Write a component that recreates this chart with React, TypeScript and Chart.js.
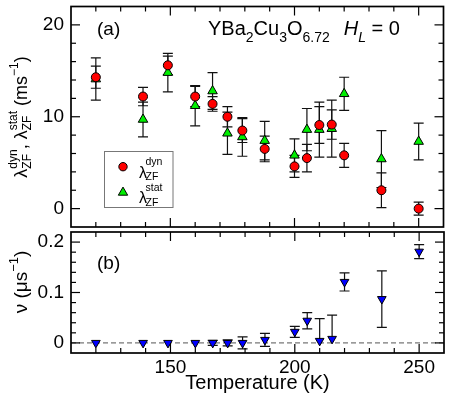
import React, { useEffect, useRef } from "react";
import { Chart, registerables } from "chart.js";

Chart.register(...registerables);

const FONT = '"Liberation Sans", Arial, Helvetica, sans-serif';

// ---- data ----
const temperatures = [120, 139, 149, 160, 167, 173, 179, 188, 200, 205, 210, 215, 220, 235, 250];
const lambdaDyn = [14.3, 12.2, 15.6, 12.2, 11.4, 10.0, 8.5, 6.5, 4.6, 5.5, 9.1, 9.15, 5.8, 2.0, 0.0];
const lambdaDynErr = [1.2, 1.0, 1.0, 1.1, 0.8, 1.1, 1.3, 1.4, 1.2, 1.5, 2.0, 1.6, 1.3, 1.9, 0.7];
const lambdaStat = [14.1, 9.7, 14.8, 11.2, 12.8, 8.2, 7.8, 7.4, 5.8, 8.6, 8.6, 8.7, 12.5, 5.4, 7.3];
const lambdaStatErr = [2.3, 1.9, 2.1, 2.2, 2.0, 2.3, 2.1, 2.1, 1.8, 2.3, 3.0, 3.1, 1.8, 3.1, 2.0];
const nu = [0, 0, 0, 0, 0, 0, 0, 0.006, 0.022, 0.044, 0.004, 0.008, 0.121, 0.087, 0.181];
const nuErrLow = [0, 0, 0, 0, 0.005, 0.006, 0.012, 0.013, 0.011, 0.016, 0, 0, 0.018, 0.056, 0.014];
const nuErrHigh = [0, 0, 0, 0, 0.005, 0.006, 0.012, 0.013, 0.011, 0.016, 0.044, 0.047, 0.018, 0.056, 0.014];

const xMin = 110;
const xMax = 260;
const xMajorTicks = [150, 200, 250];
const xTickLabels = ["150", "200", "250"];
const xMinorStep = 10;

const topYMin = -2;
const topYMax = 22;
const topYTicks = [0, 10, 20];
const topYTickLabels = ["0", "10", "20"];
const topYMinorStep = 2;

const bottomYMin = -0.02;
const bottomYMax = 0.22;
const bottomYTicks = [0, 0.1, 0.2];
const bottomYTickLabels = ["0", "0.1", "0.2"];
const bottomYMinorStep = 0.02;

// ---- rich text helpers ----
type Piece = {
  text?: string;
  size: number;
  dy?: number;
  italic?: boolean;
  sup?: string;
  sub?: string;
  supDy?: number;
  subDy?: number;
  gap?: number;
};

const fontOf = (size: number, italic?: boolean) => `${italic ? "italic " : ""}${size}px ${FONT}`;

function pieceWidth(ctx: CanvasRenderingContext2D, p: Piece) {
  ctx.font = fontOf(p.size, p.italic);
  if (p.sup !== undefined || p.sub !== undefined) {
    return Math.max(p.sup ? ctx.measureText(p.sup).width : 0, p.sub ? ctx.measureText(p.sub).width : 0);
  }
  return ctx.measureText(p.text || "").width;
}

function drawRich(ctx: CanvasRenderingContext2D, pieces: Piece[], x: number, y: number, align: "left" | "center") {
  const widths = pieces.map((p) => pieceWidth(ctx, p) + (p.gap || 0));
  const total = widths.reduce((a, b) => a + b, 0);
  let cx = align === "center" ? x - total / 2 : x;
  ctx.textAlign = "left";
  ctx.textBaseline = "alphabetic";
  pieces.forEach((p, i) => {
    ctx.font = fontOf(p.size, p.italic);
    if (p.sup !== undefined || p.sub !== undefined) {
      if (p.sup) ctx.fillText(p.sup, cx, y + (p.supDy ?? -8));
      if (p.sub) ctx.fillText(p.sub, cx, y + (p.subDy ?? 5));
    } else {
      ctx.fillText(p.text || "", cx, y + (p.dy || 0));
    }
    cx += widths[i];
  });
}

// ---- plugins ----
function minorValues(min: number, max: number, step: number, majors: number[]) {
  const out: number[] = [];
  const k0 = Math.ceil(min / step - 1e-9);
  const k1 = Math.floor(max / step + 1e-9);
  for (let k = k0; k <= k1; k++) {
    const v = k * step;
    if (Math.abs(v - min) < step * 0.01 || Math.abs(v - max) < step * 0.01) continue;
    if (majors.some((m) => Math.abs(m - v) < step * 0.01)) continue;
    out.push(v);
  }
  return out;
}

function framePlugin(yMajors: number[], yMinorStep: number) {
  return {
    id: "frameTicks",
    afterDraw(chart: any) {
      const { ctx, chartArea: a, scales } = chart;
      const xs = scales.x;
      const ys = scales.y;
      ctx.save();
      ctx.strokeStyle = "#000";
      ctx.lineWidth = 1.2;
      const seg = (x1: number, y1: number, x2: number, y2: number) => {
        ctx.beginPath();
        ctx.moveTo(x1, y1);
        ctx.lineTo(x2, y2);
        ctx.stroke();
      };
      const xt = (v: number, len: number) => {
        const p = xs.getPixelForValue(v);
        seg(p, a.bottom, p, a.bottom - len);
        seg(p, a.top, p, a.top + len);
      };
      const yt = (v: number, len: number) => {
        const p = ys.getPixelForValue(v);
        seg(a.left, p, a.left + len, p);
        seg(a.right, p, a.right - len, p);
      };
      xMajorTicks.forEach((v) => xt(v, 9));
      minorValues(xs.min, xs.max, xMinorStep, xMajorTicks).forEach((v) => xt(v, 5));
      yMajors.forEach((v) => yt(v, 9));
      minorValues(ys.min, ys.max, yMinorStep, yMajors).forEach((v) => yt(v, 5));
      ctx.lineWidth = 1.7;
      ctx.strokeRect(a.left, a.top, a.right - a.left, a.bottom - a.top);
      ctx.restore();
    },
  };
}

type ErrSet = { x: number[]; y: number[]; lo: number[]; hi: number[] };

function errorBarPlugin(sets: ErrSet[], zeroLine: boolean) {
  return {
    id: "errorBars",
    beforeDatasetsDraw(chart: any) {
      const { ctx, chartArea: a, scales } = chart;
      const xs = scales.x;
      const ys = scales.y;
      ctx.save();
      ctx.beginPath();
      ctx.rect(a.left, a.top, a.right - a.left, a.bottom - a.top);
      ctx.clip();
      if (zeroLine) {
        const py = ys.getPixelForValue(0);
        ctx.strokeStyle = "#555";
        ctx.lineWidth = 1;
        ctx.setLineDash([5, 3]);
        ctx.beginPath();
        ctx.moveTo(a.left, py);
        ctx.lineTo(a.right, py);
        ctx.stroke();
        ctx.setLineDash([]);
      }
      ctx.strokeStyle = "#111";
      ctx.lineWidth = 1.2;
      const cap = 5;
      sets.forEach((s) => {
        s.x.forEach((xv, i) => {
          const lo = s.lo[i];
          const hi = s.hi[i];
          if (!lo && !hi) return;
          const px = xs.getPixelForValue(xv);
          const pt = ys.getPixelForValue(s.y[i] + hi);
          const pb = ys.getPixelForValue(s.y[i] - lo);
          ctx.beginPath();
          ctx.moveTo(px, pt);
          ctx.lineTo(px, pb);
          if (hi > 0) {
            ctx.moveTo(px - cap, pt);
            ctx.lineTo(px + cap, pt);
          }
          if (lo > 0) {
            ctx.moveTo(px - cap, pb);
            ctx.lineTo(px + cap, pb);
          }
          ctx.stroke();
        });
      });
      ctx.restore();
    },
  };
}

const topTextPlugin = {
  id: "topText",
  afterDraw(chart: any) {
    const ctx: CanvasRenderingContext2D = chart.ctx;
    ctx.save();
    ctx.fillStyle = "#000";
    // panel label
    drawRich(ctx, [{ text: "(a)", size: 19 }], 97, 35, "left");
    // compound label
    drawRich(
      ctx,
      [
        { text: "YBa", size: 20 },
        { text: "2", size: 14, dy: 7 },
        { text: "Cu", size: 20 },
        { text: "3", size: 14, dy: 7 },
        { text: "O", size: 20 },
        { text: "6.72", size: 14, dy: 7, gap: 14 },
        { text: "H", size: 20, italic: true },
        { text: "L", size: 14, dy: 7, italic: true },
        { text: " = 0", size: 20 },
      ],
      208,
      35,
      "left"
    );
    // legend box
    ctx.strokeStyle = "#777";
    ctx.lineWidth = 1;
    ctx.strokeRect(104.5, 151.5, 68.5, 56);
    // legend symbols
    ctx.lineWidth = 1;
    ctx.strokeStyle = "#000";
    ctx.fillStyle = "#ff0000";
    ctx.beginPath();
    ctx.arc(123, 166.7, 4.2, 0, Math.PI * 2);
    ctx.fill();
    ctx.stroke();
    ctx.fillStyle = "#00ee00";
    const r = 5.4;
    const cx = 123;
    const cy = 192.5;
    ctx.beginPath();
    ctx.moveTo(cx, cy - r);
    ctx.lineTo(cx + r * Math.sin((2 * Math.PI) / 3), cy - r * Math.cos((2 * Math.PI) / 3));
    ctx.lineTo(cx + r * Math.sin((4 * Math.PI) / 3), cy - r * Math.cos((4 * Math.PI) / 3));
    ctx.closePath();
    ctx.fill();
    ctx.stroke();
    ctx.fillStyle = "#000";
    drawRich(
      ctx,
      [{ text: "λ", size: 16, gap: -1.5 }, { size: 10.5, sup: "dyn", sub: "ZF", supDy: -13, subDy: 2 }],
      139,
      178,
      "left"
    );
    drawRich(
      ctx,
      [{ text: "λ", size: 16, gap: -1.5 }, { size: 10.5, sup: "stat", sub: "ZF", supDy: -12, subDy: 3 }],
      139,
      203,
      "left"
    );
    // y title
    ctx.save();
    ctx.translate(27, 117);
    ctx.rotate(-Math.PI / 2);
    drawRich(
      ctx,
      [
        { text: "λ", size: 18 },
        { size: 12, sup: "dyn", sub: "ZF", supDy: -10, subDy: 4 },
        { text: ", ", size: 18 },
        { text: "λ", size: 18 },
        { size: 12, sup: "stat", sub: "ZF", supDy: -10, subDy: 4 },
        { text: " (ms", size: 18 },
        { text: "−1", size: 12, dy: -9 },
        { text: ")", size: 18 },
      ],
      0,
      0,
      "center"
    );
    ctx.restore();
    ctx.restore();
  },
};

const bottomTextPlugin = {
  id: "bottomText",
  afterDraw(chart: any) {
    const ctx: CanvasRenderingContext2D = chart.ctx;
    ctx.save();
    ctx.fillStyle = "#000";
    drawRich(ctx, [{ text: "(b)", size: 19 }], 97, 269, "left");
    ctx.save();
    ctx.translate(27, 282);
    ctx.rotate(-Math.PI / 2);
    drawRich(
      ctx,
      [
        { text: "ν (μs", size: 19 },
        { text: "−1", size: 13, dy: -9 },
        { text: ")", size: 19 },
      ],
      0,
      0,
      "center"
    );
    ctx.restore();
    ctx.restore();
  },
};

const tickFont = { family: FONT, size: 19 };

export default function App() {
  const topRef = useRef<HTMLCanvasElement>(null);
  const botRef = useRef<HTMLCanvasElement>(null);

  useEffect(() => {
    const topChart = new Chart(topRef.current!, {
      type: "scatter",
      data: {
        datasets: [
          {
            label: "λdyn",
            data: temperatures.map((t, i) => ({ x: t, y: lambdaDyn[i] })),
            pointStyle: "circle",
            pointRadius: 4.5,
            backgroundColor: "#ff0000",
            borderColor: "#000",
            borderWidth: 1,
          },
          {
            label: "λstat",
            data: temperatures.map((t, i) => ({ x: t, y: lambdaStat[i] })),
            pointStyle: "triangle",
            pointRadius: 5.5,
            backgroundColor: "#00ee00",
            borderColor: "#000",
            borderWidth: 1,
          },
        ],
      },
      options: {
        responsive: false,
        maintainAspectRatio: false,
        animation: false,
        devicePixelRatio: 1,
        events: [],
        layout: { padding: { top: 2, right: 2, bottom: 170, left: 0 } },
        plugins: { legend: { display: false }, tooltip: { enabled: false } },
        scales: {
          x: {
            type: "linear",
            min: xMin,
            max: xMax,
            ticks: { display: false },
            grid: { display: false, drawTicks: false },
            border: { display: false },
            afterFit: (s: any) => {
              s.height = 0;
              s.paddingLeft = 0;
              s.paddingRight = 0;
            },
          },
          y: {
            type: "linear",
            min: topYMin,
            max: topYMax,
            afterBuildTicks: (s: any) => {
              s.ticks = topYTicks.map((v) => ({ value: v }));
            },
            ticks: {
              color: "#000",
              font: tickFont,
              padding: 7,
              callback: (_v: any, i: number) => topYTickLabels[i],
            },
            grid: { display: false, drawTicks: false },
            border: { display: false },
            afterFit: (s: any) => {
              s.width = 71;
              s.paddingTop = 0;
              s.paddingBottom = 0;
            },
          },
        },
      } as any,
      plugins: [
        errorBarPlugin(
          [
            { x: temperatures, y: lambdaStat, lo: lambdaStatErr, hi: lambdaStatErr },
            { x: temperatures, y: lambdaDyn, lo: lambdaDynErr, hi: lambdaDynErr },
          ],
          false
        ),
        framePlugin(topYTicks, topYMinorStep),
        topTextPlugin,
      ],
    });

    const botChart = new Chart(botRef.current!, {
      type: "scatter",
      data: {
        datasets: [
          {
            label: "nu",
            data: temperatures.map((t, i) => ({ x: t, y: nu[i] })),
            pointStyle: "triangle",
            rotation: 180,
            pointRadius: 5,
            backgroundColor: "#0000ff",
            borderColor: "#000",
            borderWidth: 1,
          },
        ],
      },
      options: {
        responsive: false,
        maintainAspectRatio: false,
        animation: false,
        devicePixelRatio: 1,
        events: [],
        layout: { padding: { top: 232, right: 2, bottom: 0, left: 0 } },
        plugins: { legend: { display: false }, tooltip: { enabled: false } },
        scales: {
          x: {
            type: "linear",
            min: xMin,
            max: xMax,
            afterBuildTicks: (s: any) => {
              s.ticks = xMajorTicks.map((v) => ({ value: v }));
            },
            ticks: {
              color: "#000",
              font: tickFont,
              padding: 3,
              maxRotation: 0,
              callback: (_v: any, i: number) => xTickLabels[i],
            },
            title: {
              display: true,
              text: "Temperature (K)",
              color: "#000",
              font: { family: FONT, size: 20 },
              padding: { top: 0, bottom: 2 },
            },
            grid: { display: false, drawTicks: false },
            border: { display: false },
            afterFit: (s: any) => {
              s.height = 44;
              s.paddingLeft = 0;
              s.paddingRight = 0;
            },
          },
          y: {
            type: "linear",
            min: bottomYMin,
            max: bottomYMax,
            afterBuildTicks: (s: any) => {
              s.ticks = bottomYTicks.map((v) => ({ value: v }));
            },
            ticks: {
              color: "#000",
              font: tickFont,
              padding: 7,
              callback: (_v: any, i: number) => bottomYTickLabels[i],
            },
            grid: { display: false, drawTicks: false },
            border: { display: false },
            afterFit: (s: any) => {
              s.width = 71;
              s.paddingTop = 0;
              s.paddingBottom = 0;
            },
          },
        },
      } as any,
      plugins: [
        errorBarPlugin([{ x: temperatures, y: nu, lo: nuErrLow, hi: nuErrHigh }], true),
        framePlugin(bottomYTicks, bottomYMinorStep),
        bottomTextPlugin,
      ],
    });

    return () => {
      topChart.destroy();
      botChart.destroy();
    };
  }, []);

  const cs: React.CSSProperties = { position: "absolute", left: 0, top: 0, width: 450, height: 397 };
  return (
    <div style={{ position: "fixed", left: 0, top: 0, width: 450, height: 397, background: "#fff" }}>
      <canvas ref={topRef} width={450} height={397} style={cs} />
      <canvas ref={botRef} width={450} height={397} style={cs} />
    </div>
  );
}
